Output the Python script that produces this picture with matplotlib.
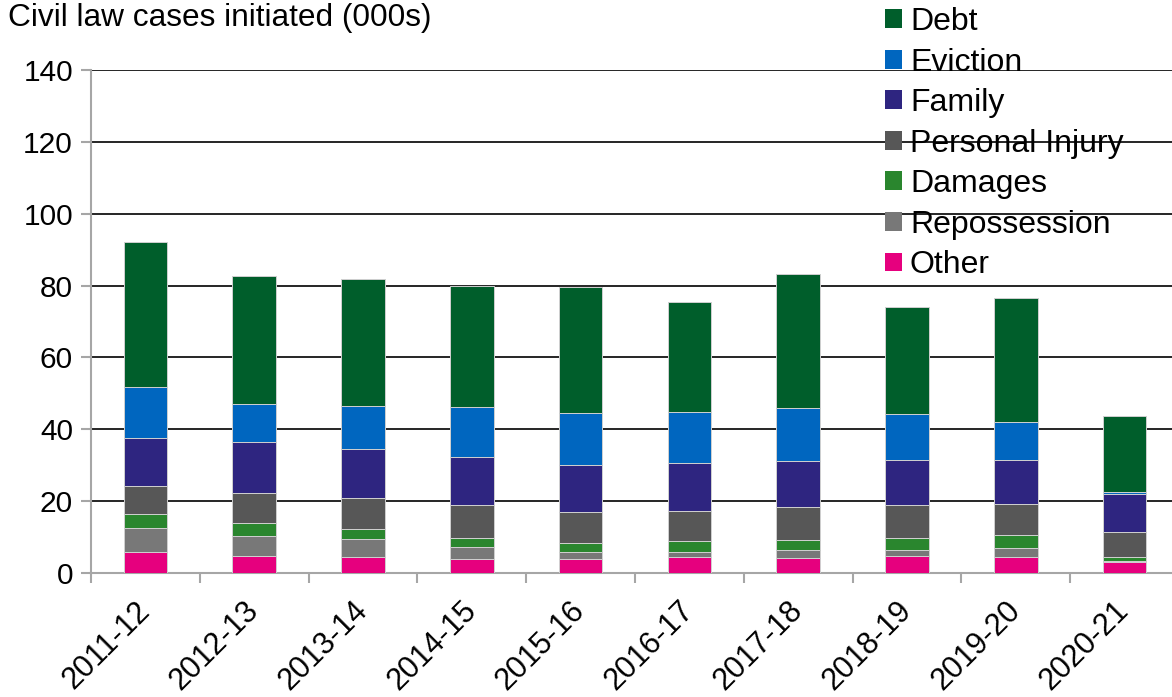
import numpy as np
import matplotlib
matplotlib.use('Agg')
import matplotlib.pyplot as plt
from matplotlib.patches import Patch

plt.rcParams['font.family'] = ['Liberation Sans', 'DejaVu Sans']

# Data (thousands of cases)
years = ['2011-12', '2012-13', '2013-14', '2014-15', '2015-16',
         '2016-17', '2017-18', '2018-19', '2019-20', '2020-21']
other = [5.8, 4.8, 4.4, 3.9, 3.9, 4.4, 4.1, 4.6, 4.4, 3.0]
repossession = [6.6, 5.6, 5.0, 3.3, 2.0, 1.5, 2.2, 1.9, 2.5, 0.3]
damages = [3.9, 3.4, 2.9, 2.5, 2.4, 2.9, 2.8, 3.2, 3.6, 1.2]
personal_injury = [7.8, 8.6, 8.5, 9.1, 8.7, 8.4, 9.4, 9.1, 8.8, 7.0]
family = [13.5, 14.0, 13.8, 13.6, 13.0, 13.3, 12.7, 12.7, 12.2, 10.4]
eviction = [14.1, 10.5, 11.8, 13.7, 14.5, 14.2, 14.6, 12.7, 10.5, 0.6]
debt = [40.4, 35.9, 35.3, 33.9, 35.1, 30.6, 37.4, 29.7, 34.5, 21.3]

series = [
    ('Other', other, '#E6007E'),
    ('Repossession', repossession, '#787878'),
    ('Damages', damages, '#2A862E'),
    ('Personal Injury', personal_injury, '#575757'),
    ('Family', family, '#2E2580'),
    ('Eviction', eviction, '#0066BF'),
    ('Debt', debt, '#005E2B'),
]

fig = plt.figure(figsize=(11.72, 6.97), dpi=100)
ax = fig.add_axes([91 / 1172, 124 / 697, 1088 / 1172, 503 / 697])

x = np.arange(len(years))
bottom = np.zeros(len(years))
for name, vals, color in series:
    ax.bar(x, vals, width=0.4, bottom=bottom, color=color,
           edgecolor='#d0d0d0', linewidth=0.7, zorder=3)
    bottom += np.array(vals)

# Axes styling
ax.set_xlim(-0.5, len(years) - 0.5)
ax.set_ylim(0, 140)
ax.set_yticks(range(0, 141, 20))
ax.yaxis.grid(True, color='black', linewidth=1.2, zorder=0)
ax.set_axisbelow(True)
for side in ['top', 'right']:
    ax.spines[side].set_visible(False)
for side in ['left', 'bottom']:
    ax.spines[side].set_color('#a6a6a6')
    ax.spines[side].set_linewidth(1.5)

ax.set_xticks(x)
ax.set_xticklabels(years, rotation=45, ha='right', va='center', rotation_mode='anchor')
ax.set_xticks(np.arange(-0.5, len(years), 1.0), minor=True)
ax.tick_params(axis='x', which='major', length=0, pad=24, labelsize=22)
ax.tick_params(axis='x', which='minor', length=7, width=1.5, color='#a6a6a6')
ax.tick_params(axis='y', length=7, width=1.5, color='#a6a6a6', labelsize=21.5, pad=6)

fig.text(8 / 1172, 1 - 3 / 697, 'Civil law cases initiated (000s)',
         ha='left', va='top', fontsize=22.8)

# Legend, Debt on top
handles = [Patch(facecolor=c, edgecolor='none') for _, _, c in series[::-1]]
labels = [n for n, _, _ in series[::-1]]
fig.legend(handles, labels, loc='upper left', bbox_to_anchor=(885 / 1172, 1 - 7 / 697),
           frameon=False, fontsize=23, handlelength=0.53, handleheight=0.53,
           handletextpad=0.25, labelspacing=0.33, borderpad=0, borderaxespad=0)

fig.savefig('out.png', dpi=100)
